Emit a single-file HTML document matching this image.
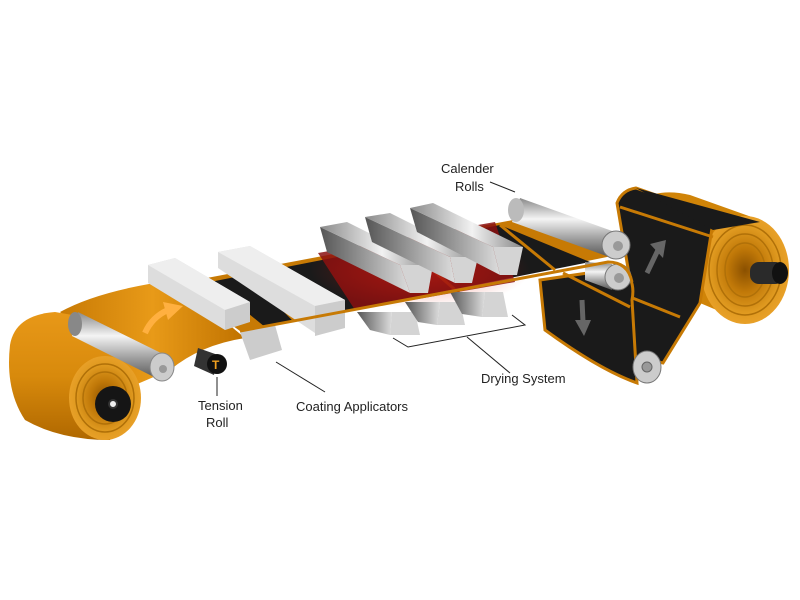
<!DOCTYPE html>
<html><head><meta charset="utf-8"><style>
html,body{margin:0;padding:0;background:#fff;}
svg{display:block}
text{font-family:"Liberation Sans",sans-serif;font-size:13px;fill:#222}
</style></head><body>
<svg width="800" height="600" viewBox="0 0 800 600" xmlns="http://www.w3.org/2000/svg">
<defs>
<linearGradient id="or" x1="0" y1="0" x2="0" y2="1"><stop offset="0" stop-color="#e89818"/><stop offset="0.5" stop-color="#d88a0c"/><stop offset="1" stop-color="#b06800"/></linearGradient>
<linearGradient id="orw" x1="0" y1="0" x2="1" y2="0"><stop offset="0" stop-color="#c87a05"/><stop offset="0.5" stop-color="#e89a18"/><stop offset="1" stop-color="#c07200"/></linearGradient>
<radialGradient id="orr" cx="0.5" cy="0.5" r="0.5"><stop offset="0" stop-color="#8a5000"/><stop offset="0.4" stop-color="#c07808"/><stop offset="0.8" stop-color="#e09a20"/><stop offset="1" stop-color="#e8a028"/></radialGradient>
<linearGradient id="met" x1="0" y1="0" x2="0" y2="1"><stop offset="0" stop-color="#888"/><stop offset="0.35" stop-color="#f4f4f4"/><stop offset="0.7" stop-color="#999"/><stop offset="1" stop-color="#555"/></linearGradient>
<linearGradient id="sil" x1="0" y1="0" x2="1" y2="0"><stop offset="0" stop-color="#8a8a8a"/><stop offset="0.55" stop-color="#f2f2f2"/><stop offset="1" stop-color="#888"/></linearGradient>
<linearGradient id="sid" x1="0" y1="0" x2="1" y2="0"><stop offset="0" stop-color="#555"/><stop offset="1" stop-color="#ddd"/></linearGradient>
<radialGradient id="glow" cx="0.5" cy="0.5" r="0.5"><stop offset="0" stop-color="#e02010" stop-opacity="0.9"/><stop offset="1" stop-color="#e02010" stop-opacity="0"/></radialGradient>
</defs>

<!-- right roll -->
<path d="M640,200 Q660,188 690,195 L760,220 L745,322 L700,303 Z" fill="#d08408"/>
<ellipse cx="745" cy="270" rx="44" ry="54" fill="url(#orr)"/>
<ellipse cx="745" cy="270" rx="36" ry="45" fill="none" stroke="#b07008" stroke-width="1.5"/>
<ellipse cx="745" cy="270" rx="28" ry="36" fill="none" stroke="#b07008" stroke-width="1.5"/>
<ellipse cx="745" cy="270" rx="20" ry="27" fill="none" stroke="#b07008" stroke-width="1.5"/>
<rect x="750" y="262" width="34" height="22" rx="9" fill="#2a2a2a"/>
<ellipse cx="780" cy="273" rx="8" ry="11" fill="#111"/>
<path d="M617,203 Q622,190 636,188 L713,215 L713,222 L700,303 L663,363 L633,357 L630,280 Z" fill="#1a1a1a" stroke="#c77a05" stroke-width="3"/>
<path d="M636,188 L760,222 L713,230 Z" fill="#1a1a1a"/>
<line x1="620" y1="207" x2="713" y2="237" stroke="#c77a05" stroke-width="3"/>
<line x1="630" y1="297" x2="680" y2="317" stroke="#c77a05" stroke-width="3"/>
<line x1="647" y1="273" x2="658" y2="250" stroke="#666" stroke-width="5"/>
<polygon points="650,244 666,240 663,258" fill="#666"/>

<!-- down segment -->
<path d="M540,280 L622,268 Q636,280 632,300 L637,383 Q600,370 545,330 Z" fill="#1a1a1a" stroke="#c77a05" stroke-width="3"/>
<line x1="563" y1="273" x2="630" y2="307" stroke="#c77a05" stroke-width="3"/>
<line x1="582" y1="300" x2="583" y2="322" stroke="#666" stroke-width="5"/>
<polygon points="575,320 591,320 584,336" fill="#666"/>

<ellipse cx="647" cy="367" rx="14" ry="16" fill="#ccc" stroke="#777"/>
<circle cx="647" cy="367" r="5" fill="#999" stroke="#666"/>

<!-- left web orange -->
<path d="M60,312 Q100,290 175,280 L245,338 Q200,345 170,370 L135,385 Z" fill="url(#orw)"/>
<!-- main belt -->
<polygon points="175,284 513,220 612,256 240,331" fill="#c77a05"/>
<polygon points="210,282 500,225 590,262 265,327" fill="#1a1a1a"/>
<line x1="250" y1="276" x2="295" y2="321" stroke="#c77a05" stroke-width="3"/>
<line x1="405" y1="246" x2="460" y2="294" stroke="#c77a05" stroke-width="3"/>
<line x1="500" y1="225" x2="555" y2="270" stroke="#c77a05" stroke-width="3"/>
<!-- red glow -->
<polygon points="318,253 495,222 515,282 355,310" fill="#8a1010" opacity="0.85"/>
<ellipse cx="420" cy="270" rx="110" ry="38" fill="url(#glow)" opacity="0.5"/>

<!-- left roll -->
<path d="M10,345 Q15,315 55,312 L90,318 L140,395 L110,440 Q60,440 25,420 Q5,390 10,345 Z" fill="url(#or)"/>
<ellipse cx="105" cy="398" rx="36" ry="42" fill="url(#orr)"/>
<ellipse cx="105" cy="398" rx="29" ry="34" fill="none" stroke="#b07008" stroke-width="1.5"/>
<ellipse cx="105" cy="398" rx="22" ry="26" fill="none" stroke="#b07008" stroke-width="1.5"/>
<circle cx="113" cy="404" r="18" fill="#151515"/>
<circle cx="113" cy="404" r="4" fill="#eee" stroke="#333" stroke-width="2"/>

<path d="M78,312 L165,355 L160,380 L72,336 Z" fill="url(#met)"/>
<ellipse cx="75" cy="324" rx="7" ry="12" fill="#888"/>
<ellipse cx="162" cy="367" rx="12" ry="14" fill="#ccc" stroke="#888"/>
<circle cx="163" cy="369" r="4" fill="#999"/>

<path d="M198,348 L218,355 L214,375 L194,366 Z" fill="#333"/>
<circle cx="217" cy="364" r="10" fill="#111"/>
<text x="212" y="369" style="font-size:12px;font-weight:bold;fill:#f0a020">T</text>

<!-- coating applicators -->
<polygon points="240,332 275,325 282,350 250,360" fill="#ccc"/>
<polygon points="148,265 175,258 250,302 250,320 225,330 148,283" fill="#ddd"/>
<polygon points="148,265 175,258 250,302 225,310" fill="#eee"/>
<polygon points="225,310 250,302 250,322 225,330" fill="#ccc"/>
<polygon points="218,252 250,246 345,300 345,325 315,333 218,268" fill="#ddd"/>
<polygon points="218,252 250,246 345,300 315,306" fill="#eee"/>
<polygon points="315,306 345,300 345,328 315,336" fill="#ccc"/>

<!-- drying units bottom -->
<polygon points="357,312 392,312 390,335 370,330" fill="url(#sid)"/>
<polygon points="392,312 415,312 420,335 390,335" fill="#d4d4d4"/>
<polygon points="405,302 440,302 437,325 418,322" fill="url(#sid)"/>
<polygon points="440,302 460,302 465,325 437,325" fill="#d4d4d4"/>
<polygon points="450,292 485,292 482,317 462,314" fill="url(#sid)"/>
<polygon points="485,292 503,292 508,317 482,317" fill="#d4d4d4"/>

<!-- drying units top -->
<polygon points="320,227 327,252 410,293 400,265" fill="url(#sid)"/>
<polygon points="320,227 347,222 433,265 400,265" fill="url(#sil)"/>
<polygon points="400,265 433,265 428,293 410,293" fill="#d4d4d4"/>
<polygon points="365,217 372,242 455,283 450,257" fill="url(#sid)"/>
<polygon points="365,217 390,213 478,257 450,257" fill="url(#sil)"/>
<polygon points="450,257 478,257 472,283 455,283" fill="#d4d4d4"/>
<polygon points="410,208 417,232 500,275 493,247" fill="url(#sid)"/>
<polygon points="410,208 433,203 523,247 493,247" fill="url(#sil)"/>
<polygon points="493,247 523,247 517,275 500,275" fill="#d4d4d4"/>

<!-- calender rolls -->
<path d="M585,262 L612,264 L612,290 L585,280 Z" fill="url(#met)"/>
<circle cx="618" cy="277" r="13" fill="#ccc" stroke="#777"/>
<circle cx="619" cy="278" r="5" fill="#999"/>
<path d="M240,331 L608,262 Q628,262 632,282" fill="none" stroke="#c77a05" stroke-width="3"/>
<path d="M520,198 L615,232 L612,258 L512,222 Z" fill="url(#met)"/>
<ellipse cx="516" cy="210" rx="8" ry="12" fill="#bbb"/>
<circle cx="616" cy="245" r="14" fill="#ccc" stroke="#777"/>
<circle cx="618" cy="246" r="5" fill="#999"/>

<path d="M145,333 Q152,317 168,310" fill="none" stroke="#ffb040" stroke-width="6"/>
<polygon points="163,302 183,306 168,320" fill="#ffb040"/>

<g stroke="#222" stroke-width="1" fill="none">
<line x1="217" y1="377" x2="217" y2="396"/>
<line x1="276" y1="362" x2="325" y2="392"/>
<polyline points="393,338 408,347 525,325 512,315"/>
<line x1="467" y1="337" x2="510" y2="373"/>
<line x1="490" y1="182" x2="515" y2="192"/>
</g>
<text x="198" y="410">Tension</text>
<text x="206" y="427">Roll</text>
<text x="296" y="411">Coating Applicators</text>
<text x="481" y="383">Drying System</text>
<text x="441" y="173">Calender</text>
<text x="455" y="191">Rolls</text>
</svg>
</body></html>
